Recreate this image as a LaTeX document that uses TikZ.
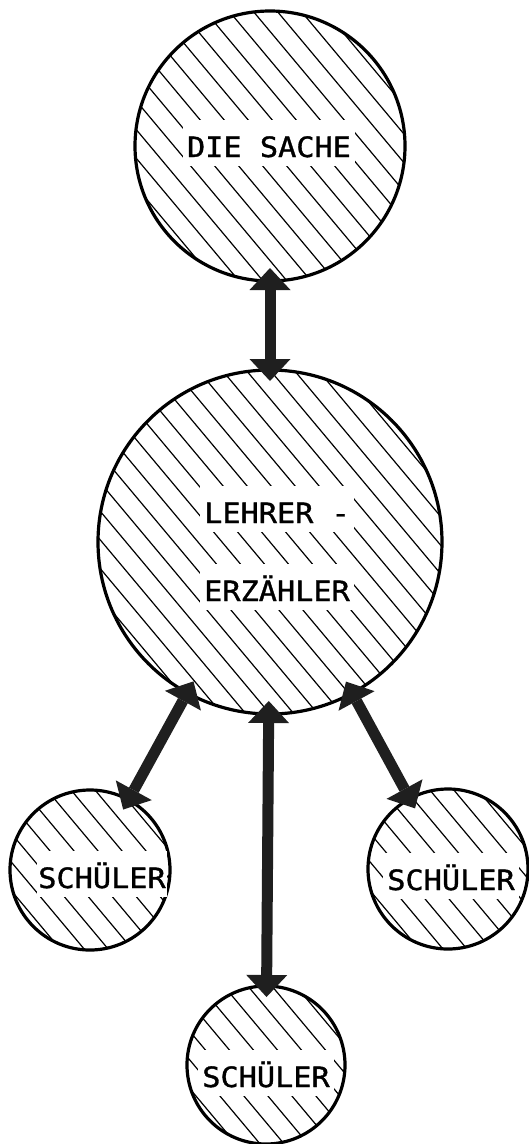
\documentclass[tikz,border=0pt]{standalone}
\usepackage{fontspec}
\newfontfamily\typewriter[FakeStretch=1.08,FakeBold=1.2]{DejaVu Sans Mono}
\usetikzlibrary{arrows.meta,calc}
\definecolor{inkgray}{gray}{0.12}

\begin{document}
\begin{tikzpicture}[x=1pt,y=-1pt,
  hatchline/.style={line width=1.2pt,black},
  ball/.style={circle,draw,line width=3.2pt,minimum size=#1,inner sep=0pt,outer sep=0pt,
    path picture={
      \foreach \k in {-12,...,12}{
        \draw[hatchline] ($(path picture bounding box.center)+(\k*24,0)$)
          +(-170,-203) -- +(170,203);
      }}},
  caption/.style={font=\typewriter\fontsize{28}{28}\selectfont,fill=white,
    text height=28pt,text depth=0pt,inner xsep=4pt,inner ysep=9pt,anchor=base},
  link/.style={line width=11pt,color=inkgray,
    {Triangle[width=41pt,length=22pt,line width=0pt]}-{Triangle[width=41pt,length=22pt,line width=0pt]},
    shorten <=-13pt,shorten >=-11pt}
]
\fill[white] (0,0) rectangle (528,1144);
\useasboundingbox (0,0) rectangle (528,1144);

% circles with diagonal hatching
\node[ball=270pt] (sache)   at (270,146)  {};
\node[ball=344pt] (lehrer)  at (270,542)  {};
\node[ball=160pt] (sleft)   at (90,870)   {};
\node[ball=160pt] (sright)  at (448,869)  {};
\node[ball=158pt] (sbottom) at (266,1065) {};

% labels on white bands
\node[caption] (tsache)  at (269,157)   {DIE SACHE};
\node[caption] (tlehrer) at (277,523)   {LEHRER -};
\node[caption] (terz)    at (277,601)   {ERZÄHLER};
\node[caption,inner xsep=1pt] (tleft) at (102,888) {SCHÜLER};
\node[caption] (tright)  at (451,890)   {SCHÜLER};
\node[caption] (tbottom) at (266,1087)  {SCHÜLER};

% double-headed connectors
\draw[link] (sache) -- (lehrer);
\draw[link] (lehrer) -- (sleft);
\draw[link] (lehrer) -- (sbottom);
\draw[link] (lehrer) -- (sright);
\end{tikzpicture}
\end{document}
